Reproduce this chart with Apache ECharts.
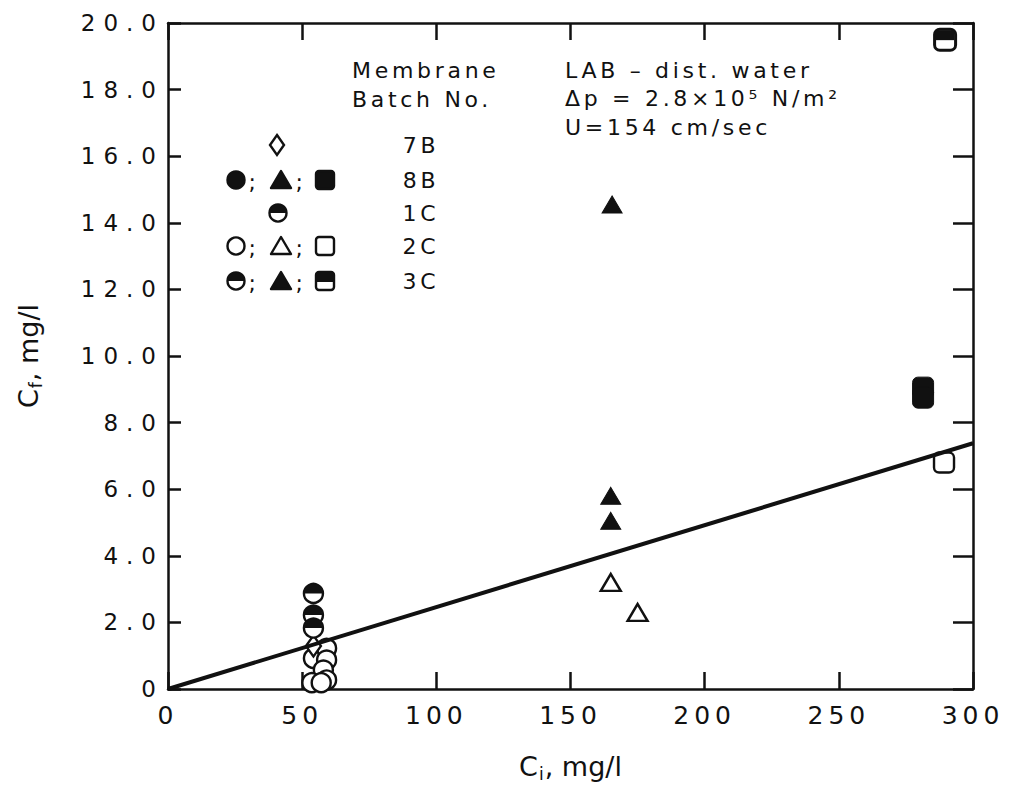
<!DOCTYPE html>
<html><head><meta charset="utf-8">
<script src="https://cdn.jsdelivr.net/npm/echarts@6/dist/echarts.min.js"></script>
<style>
html,body{margin:0;padding:0;background:#fff;}
#c{width:1010px;height:792px;}
#c text[style*="23px"]{letter-spacing:8px;}
#c text[style*="25px"]{letter-spacing:5px;}
#c text[style*="22px"]{letter-spacing:3.7px;}
</style></head><body><div id="c"></div>
<script>
// ---- data ----
const xTickLabels = ['0','50','100','150','200','250','300'];
const yTickLabels = ['0','2.0','4.0','6.0','8.0','10.0','12.0','14.0','16.0','18.0','20.0'];
const fitLine = [[0,0],[300,7.38]];
const circles2C_open = [[54.2,0.92],[59.1,1.22],[59.1,0.87],[57.9,0.57],[53.6,0.19],[59.1,0.27],[57.1,0.19]];
const circles1C3C_half = [[54.2,2.87],[54.2,2.22],[54.2,1.83]];
const diamonds7B = [[54.2,1.29]];
const triangles8B_filled = [[165,5.8],[165,5.05]];
const triangles3C_filled = [[165.5,14.55]];
const triangles2C_open = [[165,3.2],[175,2.3]];
const squares8B_filled = [[281.4,9.05],[281.4,8.75]];
const squares2C_open = [[289.2,6.8]];
const squares3C_half = [[289.6,19.5]];

const INK = '#111';
const FONT = 'DejaVu Sans';
const chart = echarts.init(document.getElementById('c'), null, {renderer:'svg'});

function openStyle(){ return {color:'#fff', borderColor:INK, borderWidth:2.4, opacity:1}; }
function filledStyle(){ return {color:INK, borderColor:INK, borderWidth:1, opacity:1}; }

// legend decorations (pixel space)
const g = [];
function txt(t,x,y,align){ g.push({type:'text', z:10, style:{text:t, x:x, y:y, font:'22px "'+FONT+'"', fill:INK, textAlign:align||'left', textVerticalAlign:'middle'}}); }
function circ(cx,cy,fill){ g.push({type:'circle', z:10, shape:{cx:cx,cy:cy,r:8.5}, style:{fill:fill, stroke:INK, lineWidth:2.4}}); }
function halfCirc(cx,cy){ circ(cx,cy,'#fff'); g.push({type:'sector', z:11, shape:{cx:cx,cy:cy,r:8.5,r0:0,startAngle:Math.PI,endAngle:2*Math.PI}, style:{fill:INK}}); }
function tri(cx,cy,fill){ g.push({type:'polygon', z:10, shape:{points:[[cx,cy-9],[cx+10,cy+8],[cx-10,cy+8]]}, style:{fill:fill, stroke:INK, lineWidth:2.4, lineJoin:'round'}}); }
function sq(cx,cy,fill){ g.push({type:'rect', z:10, shape:{x:cx-9,y:cy-9,width:18,height:18,r:3}, style:{fill:fill, stroke:INK, lineWidth:2.4}}); }
function halfSq(cx,cy){ sq(cx,cy,'#fff'); g.push({type:'rect', z:11, shape:{x:cx-9,y:cy-9,width:18,height:10,r:[3,3,0,0]}, style:{fill:INK}}); }
function dia(cx,cy){ g.push({type:'polygon', z:10, shape:{points:[[cx,cy-10],[cx+7,cy],[cx,cy+10],[cx-7,cy]]}, style:{fill:'#fff', stroke:INK, lineWidth:2.4}}); }

txt('Membrane',352,70); txt('Batch No.',352,99);
txt('LAB – dist. water',565,70); txt('Δp = 2.8×10⁵ N/m²',565,98); txt('U=154 cm/sec',565,127);
dia(277,145); txt('7B',421,145,'center');
circ(236,180,INK); txt(';',254,182,'center'); tri(281,180,INK); txt(';',301,182,'center'); sq(325,180,INK); txt('8B',421,180,'center');
halfCirc(278,213); txt('1C',421,213,'center');
circ(236,246,'#fff'); txt(';',254,248,'center'); tri(281,246,'#fff'); txt(';',301,248,'center'); sq(325,246,'#fff'); txt('2C',421,246,'center');
halfCirc(236,281); txt(';',254,283,'center'); tri(281,281,INK); txt(';',301,283,'center'); halfSq(325,281); txt('3C',421,281,'center');

function axLine(){ return {show:true, onZero:false, lineStyle:{color:INK, width:2.5}}; }
function ticks(len){ return {inside:true, length:len, lineStyle:{color:INK, width:2.5}}; }
const nameRich = {c:{fontSize:27,fontFamily:FONT,color:INK}, s:{fontSize:17,fontFamily:FONT,color:INK,padding:[14,1,0,1]}};
const option = {
  backgroundColor:'#fff',
  animation:false,
  grid:{left:168, right:37, top:23, bottom:103},
  xAxis:[
    {type:'value', min:0, max:300, interval:50, position:'bottom',
     axisLine:axLine(), axisTick:ticks(17), splitLine:{show:false},
     axisLabel:{margin:14, fontSize:25, fontFamily:FONT, color:INK,
       formatter:(v)=>xTickLabels[Math.round(v/50)]},
     name:'{c|C}{s|i}{c|, mg/l}', nameLocation:'middle', nameGap:62,
     nameTextStyle:{rich:nameRich}},
    {type:'value', min:0, max:300, interval:50, position:'top',
     axisLine:axLine(), axisTick:ticks(17), axisLabel:{show:false}, splitLine:{show:false}}
  ],
  yAxis:[
    {type:'value', min:0, max:20, interval:2, position:'left',
     axisLine:axLine(), axisTick:ticks(13), splitLine:{show:false},
     axisLabel:{margin:4, fontSize:23, fontFamily:FONT, color:INK,
       formatter:(v)=>yTickLabels[Math.round(v/2)]},
     name:'{c|C}{s|f}{c|, mg/l}', nameLocation:'middle', nameGap:124, nameRotate:90,
     nameTextStyle:{rich:nameRich}},
    {type:'value', min:0, max:20, interval:2, position:'right',
     axisLine:axLine(), axisTick:ticks(20), axisLabel:{show:false}, splitLine:{show:false}}
  ],
  graphic:g,
  series:[
    {type:'line', data:fitLine, symbol:'none', lineStyle:{color:INK, width:4}, silent:true},
    {type:'scatter', data:circles2C_open, symbol:'circle', symbolSize:19, itemStyle:openStyle()},
    {type:'scatter', data:diamonds7B, symbol:'diamond', symbolSize:[15,21], itemStyle:openStyle()},
    {type:'scatter', data:circles1C3C_half, symbol:'circle', symbolSize:19, itemStyle:openStyle()},
    {type:'scatter', data:circles1C3C_half, symbol:'path://M0,10A10,10,0,0,1,20,10Z', symbolSize:[18,9.5], symbolOffset:[0,'-50%'], itemStyle:{color:INK, opacity:1}},
    {type:'scatter', data:triangles2C_open, symbol:'triangle', symbolSize:[20,17], itemStyle:openStyle()},
    {type:'scatter', data:triangles8B_filled, symbol:'triangle', symbolSize:[20,17], itemStyle:filledStyle()},
    {type:'scatter', data:triangles3C_filled, symbol:'triangle', symbolSize:[20,17], itemStyle:filledStyle()},
    {type:'scatter', data:squares2C_open, symbol:'roundRect', symbolSize:20, itemStyle:openStyle()},
    {type:'scatter', data:squares8B_filled, symbol:'roundRect', symbolSize:[21,21], itemStyle:filledStyle()},
    {type:'scatter', data:squares3C_half, symbol:'roundRect', symbolSize:21, itemStyle:{color:'#fff', borderColor:INK, borderWidth:3, opacity:1}},
    {type:'scatter', data:squares3C_half, symbol:'rect', symbolSize:[19,10], symbolOffset:[0,-4.5], itemStyle:{color:INK, opacity:1}}
  ]
};
chart.setOption(option);
</script></body></html>
